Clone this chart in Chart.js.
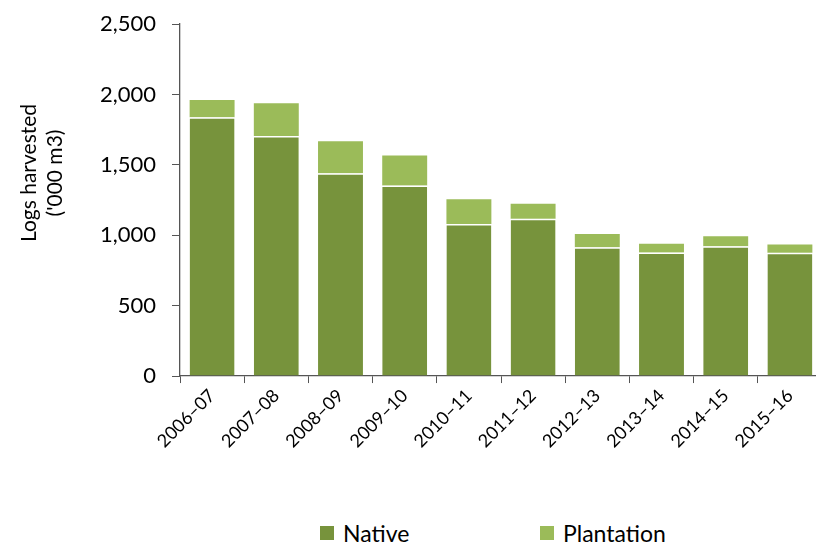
<!DOCTYPE html>
<html>
<head>
<meta charset="utf-8">
<script src="https://cdn.jsdelivr.net/npm/chart.js@4.4.1/dist/chart.umd.min.js"></script>
<style>
  html, body { margin: 0; padding: 0; background: #fff; overflow: hidden; }
  #wrap { position: relative; width: 822px; height: 544px; }
  #box { position: absolute; left: 0; top: 0; width: 822px; height: 454px; }
  #legend { position: absolute; top: 519px; left: 0; font-family: Lato, sans-serif; font-size: 23px; color: #000; }
  #legend span.item { position: absolute; white-space: nowrap; display: flex; align-items: center; }
  #legend i { display: inline-block; width: 14px; height: 14px; margin-right: 9px; }
</style>
</head>
<body>
<div id="wrap">
  <div id="box"><canvas id="logsChart"></canvas></div>
  <div id="legend"></div>
</div>
<script>
// anni finanziari
const years = ["2006–07", "2007–08", "2008–09", "2009–10", "2010–11",
               "2011–12", "2012–13", "2013–14", "2014–15", "2015–16"];

// tronchi raccolti ('000 m3)
const nativeLogs = [1837, 1705, 1440, 1354, 1080, 1117, 914, 878, 921, 876];
const plantationLogs = [123, 232, 227, 213, 175, 107, 95, 62, 71, 59];

const yTicks = [0, 500, 1000, 1500, 2000, 2500];

const axisColor = "#555";

// titolo dell'asse Y su due righe, disegnato a mano
const yTitlePlugin = {
    id: "yTitle",
    afterDraw(chart) {
        const ctx = chart.ctx;
        ctx.save();
        ctx.font = "21px Lato";
        ctx.fillStyle = "#000";
        ctx.textAlign = "center";
        ctx.textBaseline = "middle";
        ctx.translate(29, 173);
        ctx.rotate(-Math.PI / 2);
        ctx.fillText("Logs harvested", 0, 0);
        ctx.fillText("('000 m3)", 0, 26);
        ctx.restore();
    }
};

const ctx = document.getElementById("logsChart").getContext("2d");

const chart = new Chart(ctx, {
    type: "bar",
    data: {
        labels: years,
        datasets: [{
            label: "Native",
            data: nativeLogs,
            backgroundColor: "#77933C",
            borderColor: "#fff",
            borderWidth: { top: 1.5, left: 0, right: 0, bottom: 0 },
            borderSkipped: false
        }, {
            label: "Plantation",
            data: plantationLogs,
            backgroundColor: "#9BBB59",
            borderWidth: 0
        }]
    },
    options: {
        responsive: true,
        maintainAspectRatio: false,
        animation: false,
        layout: { padding: { top: 0, right: 0, bottom: 0, left: 0 } },
        plugins: {
            legend: { display: false },
            tooltip: { enabled: false }
        },
        datasets: {
            bar: { categoryPercentage: 1, barPercentage: 0.7 }
        },
        scales: {
            x: {
                stacked: true,
                offset: true,
                grid: {
                    offset: true,
                    drawOnChartArea: false,
                    drawTicks: true,
                    tickLength: 7,
                    color: axisColor
                },
                border: { display: true, color: axisColor, width: 1.3 },
                ticks: {
                    color: "#000",
                    font: { family: "Lato", size: 18 },
                    minRotation: 45,
                    maxRotation: 45,
                    autoSkip: false,
                    padding: 2
                }
            },
            y: {
                stacked: true,
                min: 0,
                max: 2500,
                afterFit(scale) {
                    scale.width = 180;
                    scale.paddingTop = 24;
                },
                afterBuildTicks(scale) { scale.ticks = yTicks.map(v => ({ value: v })); },
                grid: {
                    drawOnChartArea: false,
                    drawTicks: true,
                    tickLength: 8,
                    color: axisColor
                },
                border: { display: true, color: axisColor, width: 1.3 },
                ticks: {
                    color: "#000",
                    font: { family: "Lato", size: 22 },
                    padding: 16
                }
            }
        }
    },
    plugins: [yTitlePlugin]
});

// legenda in HTML sotto il grafico
const legendPos = [320, 540];
const legend = document.getElementById("legend");
chart.data.datasets.forEach((ds, i) => {
    const item = document.createElement("span");
    item.className = "item";
    item.style.left = legendPos[i] + "px";
    item.innerHTML = `<i style="background:${ds.backgroundColor}"></i>${ds.label}`;
    legend.appendChild(item);
});
</script>
</body>
</html>
